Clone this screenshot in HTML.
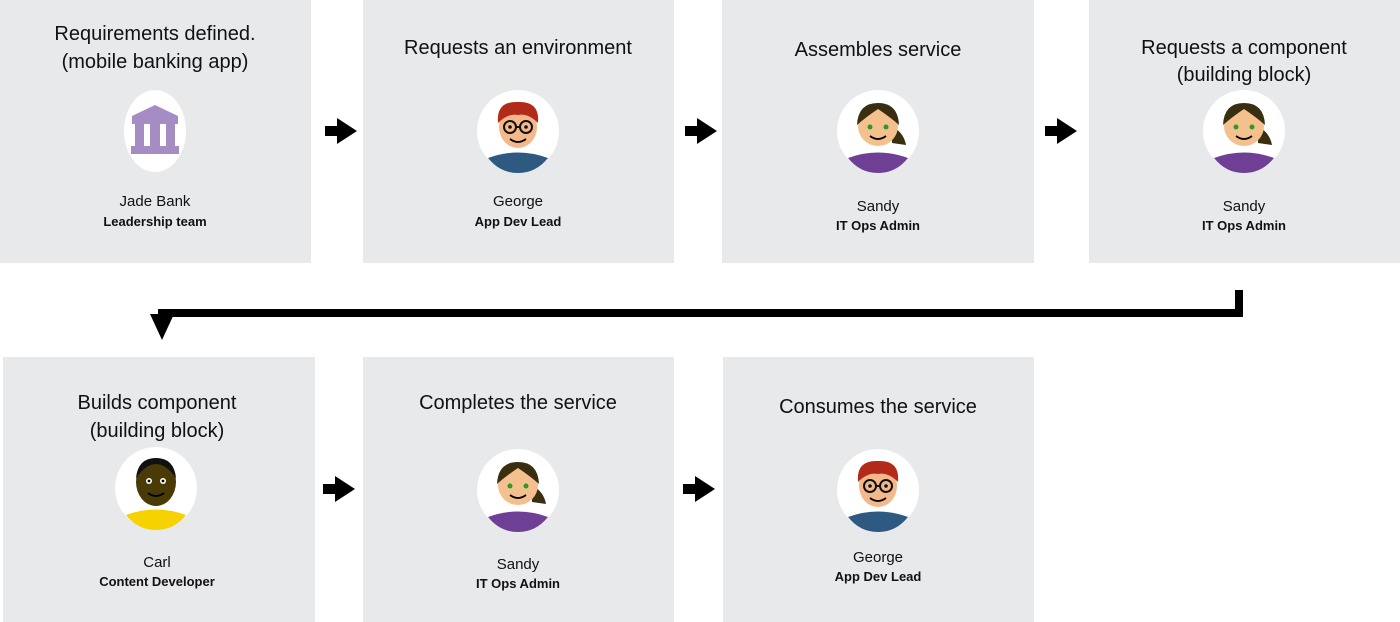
<!DOCTYPE html>
<html><head><meta charset="utf-8"><style>
html,body{margin:0;padding:0;background:#fff;}
svg{display:block;}
text{font-family:"Liberation Sans",sans-serif;fill:#111;text-anchor:middle;}
.t{font-size:20px;}
.n{font-size:15px;}
.r{font-size:13px;font-weight:bold;}
</style></head><body>
<svg width="1400" height="622" viewBox="0 0 1400 622" xmlns="http://www.w3.org/2000/svg">
<defs>
<g id="arr"><rect x="0" y="-5" width="14" height="10" fill="#000"/><polygon points="12,-13 32,0 12,13" fill="#000"/></g>
<g id="sandy">
<circle cx="0" cy="0" r="41" fill="#fff"/>
<path d="M-30,27 Q0,16 30,27 Q18,42 0,42 Q-18,42 -30,27Z" fill="#6f3f96"/>
<path d="M14,-5 Q26,2 28,14 L14,12Z" fill="#3a2e10"/>
<ellipse cx="0" cy="-5" rx="20" ry="20" fill="#f3c08e"/>
<path d="M-21,-6 Q-20,-28 0,-28 Q20,-28 21,-6 Q12,-14 0,-22 Q-12,-14 -21,-6Z" fill="#3a2e10"/>
<circle cx="-8" cy="-4" r="2.5" fill="#2a9a2a"/><circle cx="8" cy="-4" r="2.5" fill="#2a9a2a"/>
<path d="M-8,5 Q0,11 8,5" stroke="#000" stroke-width="1.8" fill="none"/>
</g>
<g id="george">
<circle cx="0" cy="0" r="41" fill="#fff"/>
<path d="M-30,27 Q0,16 30,27 Q18,42 0,42 Q-18,42 -30,27Z" fill="#2e5a82"/>
<ellipse cx="0" cy="-4" rx="19" ry="21" fill="#f3b98a"/>
<path d="M-20,-8 Q-22,-30 0,-29 Q22,-30 20,-8 Q10,-18 0,-16 Q-10,-18 -20,-8Z" fill="#b22a1a"/>
<circle cx="-8" cy="-4" r="6" fill="none" stroke="#111" stroke-width="2"/><circle cx="8" cy="-4" r="6" fill="none" stroke="#111" stroke-width="2"/>
<line x1="-2" y1="-4" x2="2" y2="-4" stroke="#111" stroke-width="2"/>
<circle cx="-8" cy="-4" r="1.8" fill="#111"/><circle cx="8" cy="-4" r="1.8" fill="#111"/>
<path d="M-8,8 Q0,14 8,8" stroke="#000" stroke-width="1.8" fill="none"/>
</g>
<g id="carl">
<circle cx="0" cy="0" r="41" fill="#fff"/>
<path d="M-30,27 Q0,16 30,27 Q18,42 0,42 Q-18,42 -30,27Z" fill="#f5d200"/>
<ellipse cx="0" cy="-6" rx="20" ry="24" fill="#4a3a06"/>
<path d="M-20,-10 Q-18,-30 0,-30 Q18,-30 20,-10 Q10,-24 0,-24 Q-10,-24 -20,-10Z" fill="#111"/>
<circle cx="-7" cy="-7" r="3" fill="#fff"/><circle cx="7" cy="-7" r="3" fill="#fff"/>
<circle cx="-7" cy="-7" r="1.4" fill="#000"/><circle cx="7" cy="-7" r="1.4" fill="#000"/>
<path d="M-8,5 Q0,11 8,5" stroke="#000" stroke-width="1.8" fill="none"/>
</g>
</defs>
<rect x="0" y="0" width="311" height="263" fill="#e8e9eb"/>
<rect x="363" y="0" width="311" height="263" fill="#e8e9eb"/>
<rect x="722" y="0" width="312" height="263" fill="#e8e9eb"/>
<rect x="1089" y="0" width="311" height="263" fill="#e8e9eb"/>
<rect x="3" y="357" width="312" height="265" fill="#e8e9eb"/>
<rect x="363" y="357" width="311" height="265" fill="#e8e9eb"/>
<rect x="723" y="357" width="311" height="265" fill="#e8e9eb"/>

<text class="t" x="155" y="40">Requirements defined.</text>
<text class="t" x="155" y="68">(mobile banking app)</text>
<ellipse cx="155" cy="131" rx="31" ry="41" fill="#fff"/>
<g fill="#a58cc3"><polygon points="155,105 132,116 178,116"/><rect x="132" y="116" width="46" height="8"/><rect x="135" y="124" width="9" height="22"/><rect x="150" y="124" width="10" height="22"/><rect x="166" y="124" width="9" height="22"/><rect x="131" y="146" width="48" height="8"/></g>
<text class="n" x="155" y="206">Jade Bank</text>
<text class="r" x="155" y="226">Leadership team</text>

<text class="t" x="518" y="54">Requests an environment</text>
<use href="#george" transform="translate(518,131)"/>
<text class="n" x="518" y="206">George</text>
<text class="r" x="518" y="226">App Dev Lead</text>

<text class="t" x="878" y="56">Assembles service</text>
<use href="#sandy" transform="translate(878,131)"/>
<text class="n" x="878" y="211">Sandy</text>
<text class="r" x="878" y="230">IT Ops Admin</text>

<text class="t" x="1244" y="54">Requests a component</text>
<text class="t" x="1244" y="81">(building block)</text>
<use href="#sandy" transform="translate(1244,131)"/>
<text class="n" x="1244" y="211">Sandy</text>
<text class="r" x="1244" y="230">IT Ops Admin</text>

<text class="t" x="157" y="409">Builds component</text>
<text class="t" x="157" y="437">(building block)</text>
<use href="#carl" transform="translate(156,488)"/>
<text class="n" x="157" y="567">Carl</text>
<text class="r" x="157" y="586">Content Developer</text>

<text class="t" x="518" y="409">Completes the service</text>
<use href="#sandy" transform="translate(518,490)"/>
<text class="n" x="518" y="569">Sandy</text>
<text class="r" x="518" y="588">IT Ops Admin</text>

<text class="t" x="878" y="413">Consumes the service</text>
<use href="#george" transform="translate(878,490)"/>
<text class="n" x="878" y="562">George</text>
<text class="r" x="878" y="581">App Dev Lead</text>

<use href="#arr" transform="translate(325,131)"/>
<use href="#arr" transform="translate(685,131)"/>
<use href="#arr" transform="translate(1045,131)"/>
<use href="#arr" transform="translate(323,489)"/>
<use href="#arr" transform="translate(683,489)"/>

<rect x="1235" y="290" width="8" height="27" fill="#000"/>
<rect x="158" y="309" width="1085" height="8" fill="#000"/>
<polygon points="150,314 174,314 162,340" fill="#000"/>
</svg>
</body></html>
